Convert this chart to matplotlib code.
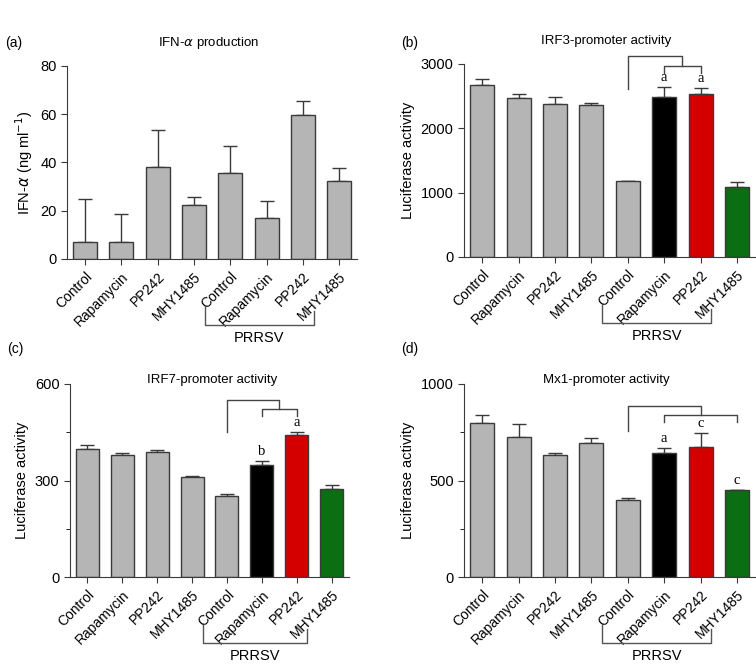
import numpy as np
import matplotlib.pyplot as plt
from matplotlib.ticker import MultipleLocator
from matplotlib.transforms import blended_transform_factory

plt.rcParams['font.family'] = ['Liberation Sans', 'DejaVu Sans']

# Data
labels = ['Control', 'Rapamycin', 'PP242', 'MHY1485',
          'Control', 'Rapamycin', 'PP242', 'MHY1485']

ifn_mean = [7, 7, 38, 22.5, 35.5, 17, 59.5, 32.5]
ifn_err = [18, 11.5, 15.5, 3, 11.5, 7, 6, 5]

irf3_mean = [2680, 2470, 2370, 2360, 1175, 2480, 2530, 1085]
irf3_err = [90, 60, 120, 40, 5, 160, 100, 75]
irf3_letters = ['', '', '', '', '', 'a', 'a', '']

irf7_mean = [398, 378, 388, 310, 253, 348, 440, 275]
irf7_err = [12, 7, 7, 3, 6, 13, 11, 10]
irf7_letters = ['', '', '', '', '', 'b', 'a', '']

mx1_mean = [800, 725, 630, 695, 400, 645, 672, 450]
mx1_err = [40, 70, 10, 25, 10, 25, 73, 2]
mx1_letters = ['', '', '', '', '', 'a', 'c', 'c']

GREY = '#b5b5b5'
bar_colors_a = [GREY] * 8
bar_colors = [GREY] * 5 + ['#000000', '#d40000', '#0b6e12']


def draw_panel(ax, mean, err, colors, ylim, major, minor=None, letters=None):
    x = np.arange(len(mean))
    ax.bar(x, mean, width=0.66, color=colors, edgecolor='#3a3a3a', linewidth=1, zorder=2)
    ax.errorbar(x, mean, yerr=[np.zeros(len(err)), err], fmt='none',
                ecolor='#3a3a3a', elinewidth=1, capsize=5, capthick=1, zorder=1)
    ax.set_xlim(-0.5, 7.5)
    ax.set_ylim(*ylim)
    ax.yaxis.set_major_locator(MultipleLocator(major))
    if minor:
        ax.yaxis.set_minor_locator(MultipleLocator(minor))
    ax.set_xticks(x)
    ax.set_xticklabels(labels, rotation=45, ha='right', rotation_mode='anchor', fontsize=10)
    ax.tick_params(axis='y', labelsize=10.5, length=4, color='#3a3a3a')
    ax.tick_params(axis='y', which='minor', length=3)
    ax.tick_params(axis='x', length=4, color='#3a3a3a')
    for s in ['top', 'right']:
        ax.spines[s].set_visible(False)
    for s in ['left', 'bottom']:
        ax.spines[s].set_color('#3a3a3a')
    if letters:
        for i, l in enumerate(letters):
            if l:
                ax.annotate(l, (i, mean[i] + err[i]), xytext=(0, 2), textcoords='offset points',
                            ha='center', va='bottom', fontsize=10.5, family='Liberation Serif')

    # PRRSV bracket under the tick labels
    tr = blended_transform_factory(ax.transData, ax.transAxes)
    ax.plot([3.3, 3.3, 6.3, 6.3], [-0.25, -0.34, -0.34, -0.27], color='#555555', lw=1,
            transform=tr, clip_on=False)
    ax.text(4.8, -0.41, 'PRRSV', transform=tr, ha='center', va='center', fontsize=10.5)


def top_bracket(ax, left, mid, inner_l, inner_r, y_top, y_inner, y_drop_l, y_drop_in):
    kw = dict(color='#444444', lw=1, clip_on=False)
    ax.plot([left, left, mid, mid], [y_drop_l, y_top, y_top, y_inner], **kw)
    ax.plot([inner_l, inner_l, inner_r, inner_r], [y_drop_in, y_inner, y_inner, y_drop_in], **kw)


fig = plt.figure(figsize=(7.56, 6.64), dpi=100)

ax_a = fig.add_axes([0.0886, 0.610, 0.384, 0.2907])
draw_panel(ax_a, ifn_mean, ifn_err, bar_colors_a, (0, 80), 20)
ax_a.set_ylabel('IFN-$\\alpha$ (ng ml$^{-1}$)', fontsize=10.5)

ax_b = fig.add_axes([0.6138, 0.613, 0.385, 0.2907])
draw_panel(ax_b, irf3_mean, irf3_err, bar_colors, (0, 3000), 1000, letters=irf3_letters)
ax_b.set_ylabel('Luciferase activity', fontsize=10.5)
top_bracket(ax_b, 4, 5.5, 5, 6, 3125, 2970, 2610, 2860)

ax_c = fig.add_axes([0.0926, 0.131, 0.369, 0.2907])
draw_panel(ax_c, irf7_mean, irf7_err, bar_colors, (0, 600), 300, 150, letters=irf7_letters)
ax_c.set_ylabel('Luciferase activity', fontsize=10.5)
top_bracket(ax_c, 4, 5.5, 5, 6, 550, 522, 451, 500)

ax_d = fig.add_axes([0.6138, 0.131, 0.385, 0.2907])
draw_panel(ax_d, mx1_mean, mx1_err, bar_colors, (0, 1000), 500, 250, letters=mx1_letters)
ax_d.set_ylabel('Luciferase activity', fontsize=10.5)
top_bracket(ax_d, 4, 6, 5, 7, 888, 839, 756, 804)

# Titles and panel letters
fig.text(209 / 756, 1 - 43 / 664, 'IFN-$\\alpha$ production', ha='center', va='center', fontsize=9.5)
fig.text(606 / 756, 1 - 41 / 664, 'IRF3-promoter activity', ha='center', va='center', fontsize=9.5)
fig.text(212 / 756, 1 - 380 / 664, 'IRF7-promoter activity', ha='center', va='center', fontsize=9.5)
fig.text(606 / 756, 1 - 380 / 664, 'Mx1-promoter activity', ha='center', va='center', fontsize=9.5)

fig.text(5 / 756, 1 - 43 / 664, '(a)', ha='left', va='center', fontsize=10)
fig.text(401 / 756, 1 - 43 / 664, '(b)', ha='left', va='center', fontsize=10)
fig.text(7 / 756, 1 - 349 / 664, '(c)', ha='left', va='center', fontsize=10)
fig.text(401 / 756, 1 - 349 / 664, '(d)', ha='left', va='center', fontsize=10)

fig.savefig('out.png', dpi=100)
